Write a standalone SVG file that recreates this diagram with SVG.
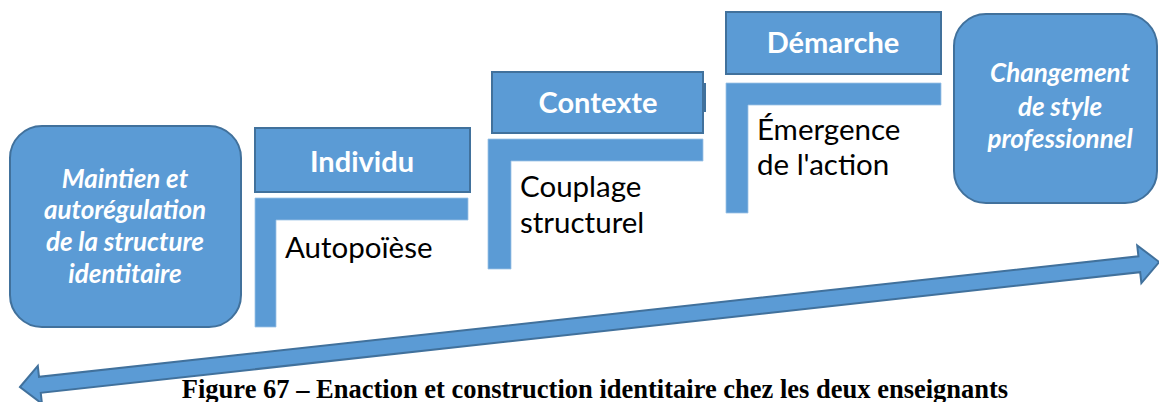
<svg xmlns="http://www.w3.org/2000/svg" width="1159" height="402" viewBox="0 0 1159 402">
  <style>
    .blue { fill: #5B9BD5; }
    .edge { fill: #5B9BD5; stroke: #41719C; stroke-width: 2; }
    .bar { fill: #5B9BD5; stroke: #9DC3E6; stroke-width: 0.8; }
    .end { font-family: Lato, "Open Sans", sans-serif; font-weight: bold; font-style: italic; font-size: 26px; fill: #FFFFFF; text-anchor: middle; }
    .head { font-family: Lato, "Open Sans", sans-serif; font-weight: bold; font-size: 29px; fill: #FFFFFF; text-anchor: middle; }
    .body { font-family: Lato, "Open Sans", sans-serif; font-size: 29.5px; fill: #000000; }
    .caption { font-family: "Liberation Serif", serif; font-weight: bold; font-size: 26.5px; fill: #000000; text-anchor: middle; }
  </style>

  <!-- double-headed progression arrow -->
  <g id="connectors">
    <polygon class="edge" transform="translate(20,387) rotate(-6.26)"
      points="0,0 20,-19 20,-8 1126,-8 1126,-19 1146,0 1126,19 1126,8 20,8 20,19"/>
  </g>

  <!-- start state -->
  <g id="maintien">
    <rect class="edge" x="10" y="126" width="231" height="201" rx="32" ry="32"/>
    <text class="end" x="125" y="188">Maintien et</text>
    <text class="end" x="125" y="219">autorégulation</text>
    <text class="end" x="125" y="251">de la structure</text>
    <text class="end" x="125" y="283">identitaire</text>
  </g>

  <!-- step 1 -->
  <g id="individu">
    <rect class="edge" x="255" y="128" width="215" height="64"/>
    <text class="head" x="362" y="172">Individu</text>
    <path class="bar" d="M255,198 H468 V220 H276 V327 H255 Z"/>
    <text class="body" x="285" y="258">Autopoïèse</text>
  </g>

  <!-- step 2 -->
  <g id="contexte">
    <rect class="edge" x="492" y="72" width="211" height="61"/>
    <rect x="703" y="83" width="3" height="29" style="fill:#41719C"/>
    <text class="head" x="598" y="113">Contexte</text>
    <path class="bar" d="M488,139 H703 V161 H511 V269 H488 Z"/>
    <text class="body" x="520" y="197">Couplage</text>
    <text class="body" x="520" y="233">structurel</text>
  </g>

  <!-- step 3 -->
  <g id="demarche">
    <rect class="edge" x="726" y="12" width="215" height="62"/>
    <text class="head" x="833" y="53">Démarche</text>
    <path class="bar" d="M726,83 H941 V105 H748 V213 H726 Z"/>
    <text class="body" x="757" y="140">Émergence</text>
    <text class="body" x="757" y="175">de l'action</text>
  </g>

  <!-- end state -->
  <g id="changement">
    <rect class="edge" x="954" y="14" width="203" height="189" rx="32" ry="32"/>
    <text class="end" x="1060" y="82">Changement</text>
    <text class="end" x="1060" y="116">de style</text>
    <text class="end" x="1060" y="148">professionnel</text>
  </g>

  <text class="caption" x="595" y="398">Figure 67 – Enaction et construction identitaire chez les deux enseignants</text>
</svg>
